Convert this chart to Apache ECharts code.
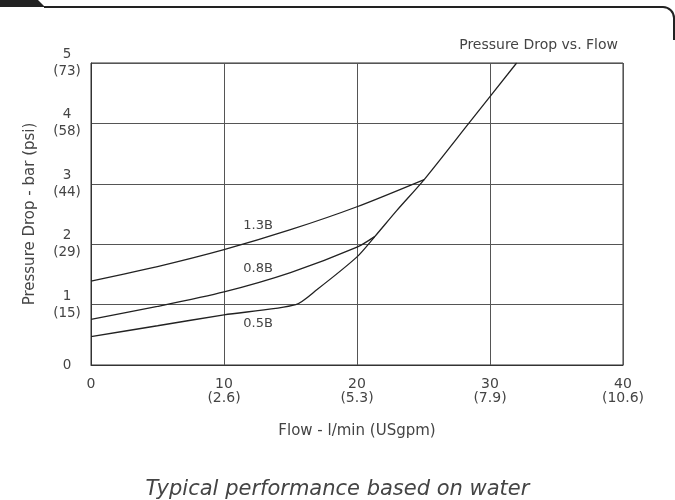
<!DOCTYPE html>
<html>
<head>
<meta charset="utf-8">
<script src="https://cdn.jsdelivr.net/npm/echarts@6/dist/echarts.min.js"></script>
<style>html,body{margin:0;padding:0;background:#fff}#c{width:675px;height:500px}</style>
</head>
<body>
<div id="c"></div>
<script>
// Tick labels
var xTickLabels = {0: '0', 10: '10\n(2.6)', 20: '20\n(5.3)', 30: '30\n(7.9)', 40: '40\n(10.6)'};
var yTickLabels = {0: '0', 1: '1\n(15)', 2: '2\n(29)', 3: '3\n(44)', 4: '4\n(58)', 5: '5\n(73)'};

// Series values [flow l/min, pressure drop bar]
var s05B = [[0,0.47],[5,0.65],[10,0.83],[15.4,1.0],[17,1.25],[20,1.79],[21.35,2.13],[23,2.56],[25.05,3.07],[28.4,4.0],[32,5.0]];
var s08B = [[0,0.755],[5,0.97],[10,1.21],[15,1.53],[20,1.95],[21.35,2.13]];
var s13B = [[0,1.39],[5,1.63],[10,1.91],[15,2.24],[20,2.62],[25.05,3.07]];

// Curve labels [name, x, y]
var curveLabels = [['1.3B', 12.56, 2.30], ['0.8B', 12.56, 1.60], ['0.5B', 12.56, 0.69]];

var FONT = 'DejaVu Sans';
var TXT = '#444';
var LINE = '#222';

function mkSeries(name, data, lbl) {
  return {
    name: name, type: 'line', data: data, smooth: 0.25,
    symbol: 'none', lineStyle: {color: LINE, width: 1.3}, clip: true,
    markPoint: {
      symbol: 'circle', symbolSize: 0, silent: true,
      label: {show: true, position: 'inside', formatter: lbl[0], color: TXT, fontFamily: FONT, fontSize: 13},
      data: [{coord: [lbl[1], lbl[2]]}]
    }
  };
}

var chart = echarts.init(document.getElementById('c'), null, {renderer: 'canvas'});
chart.setOption({
  backgroundColor: '#fff',
  animation: false,
  title: [{
    text: 'Pressure Drop vs. Flow', right: 52, top: 33,
    textStyle: {fontFamily: FONT, fontSize: 14, fontWeight: 'normal', color: TXT}
  }, {
    text: 'Typical performance based on water', left: 'center', top: 474,
    textStyle: {fontFamily: FONT, fontSize: 21, fontStyle: 'italic', fontWeight: 'normal', color: TXT}
  }],
  graphic: [
    {type: 'polygon', shape: {points: [[0,0],[38,0],[45,7],[0,7]]}, style: {fill: LINE}},
    {type: 'line', shape: {x1: 44, y1: 7, x2: 663, y2: 7}, style: {stroke: LINE, lineWidth: 2}},
    {type: 'arc', shape: {cx: 663, cy: 18, r: 11, startAngle: -Math.PI / 2, endAngle: 0, clockwise: true}, style: {stroke: LINE, lineWidth: 2, fill: null}},
    {type: 'line', shape: {x1: 674, y1: 18, x2: 674, y2: 40}, style: {stroke: LINE, lineWidth: 2}}
  ],
  grid: {left: 91, right: 52, top: 63, bottom: 135, show: true, borderColor: '#333', borderWidth: 1},
  xAxis: {
    type: 'value', min: 0, max: 40, interval: 10,
    name: 'Flow - l/min (USgpm)', nameLocation: 'middle', nameGap: 59,
    nameTextStyle: {fontFamily: FONT, fontSize: 15, color: TXT},
    axisLine: {show: true, lineStyle: {color: '#333'}},
    axisTick: {show: false},
    splitLine: {show: true, lineStyle: {color: '#555', width: 1}},
    axisLabel: {
      formatter: function (v) { return xTickLabels[v]; },
      fontFamily: FONT, fontSize: 14, color: TXT, lineHeight: 14, margin: 12
    }
  },
  yAxis: {
    type: 'value', min: 0, max: 5, interval: 1,
    name: 'Pressure Drop - bar (psi)', nameLocation: 'middle', nameGap: 53,
    nameTextStyle: {fontFamily: FONT, fontSize: 15, color: TXT},
    axisLine: {show: true, lineStyle: {color: '#333'}},
    axisTick: {show: false},
    splitLine: {show: true, lineStyle: {color: '#555', width: 1}},
    axisLabel: {
      formatter: function (v) { return yTickLabels[v]; },
      fontFamily: FONT, fontSize: 13.5, color: TXT, lineHeight: 17, margin: 24, align: 'center'
    }
  },
  series: [
    mkSeries('0.5B', s05B, curveLabels[2]),
    mkSeries('0.8B', s08B, curveLabels[1]),
    mkSeries('1.3B', s13B, curveLabels[0])
  ]
});
</script>
</body>
</html>
